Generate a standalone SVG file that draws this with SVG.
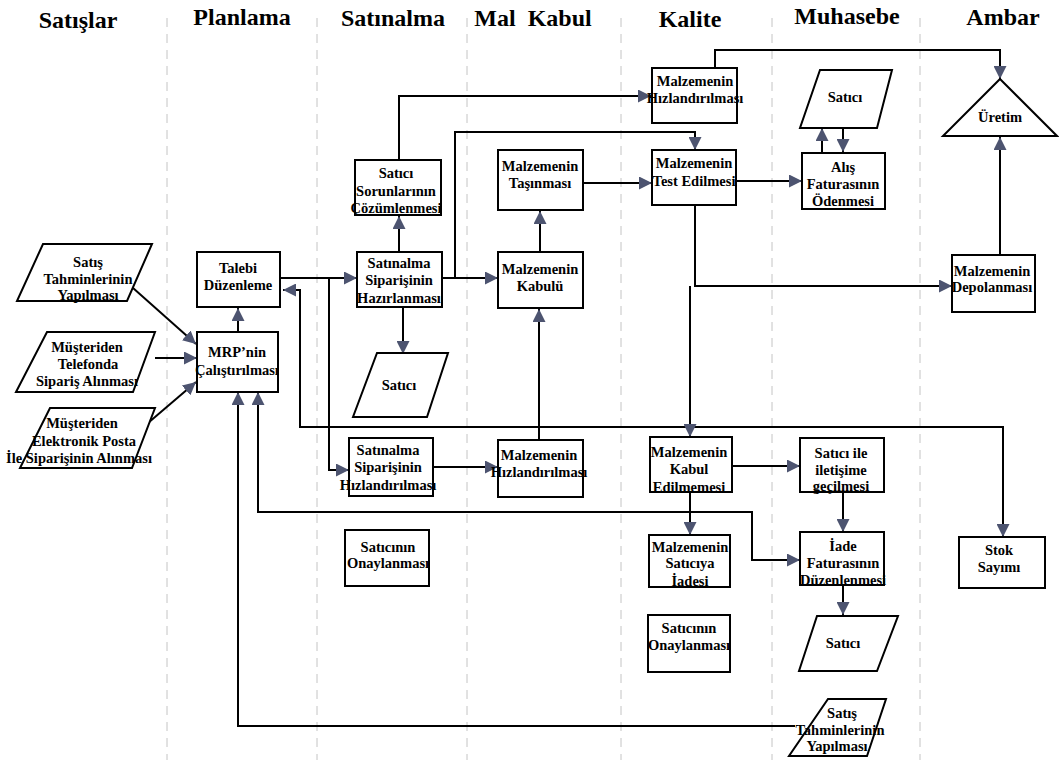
<svg xmlns="http://www.w3.org/2000/svg" width="1059" height="760" viewBox="0 0 1059 760" font-family="Liberation Serif, DejaVu Serif, serif">
  <style>
    .lane { stroke: #c4c4c4; stroke-width: 1; stroke-dasharray: 9 7; }
    .box { fill: #fff; stroke: #000; stroke-width: 2; }
    .t { font-family: 'Liberation Serif', 'DejaVu Serif', serif; font-weight: 700; font-size: 14.5px; text-anchor: middle; fill: #000; }
    .h { font-size: 24px; }
    .c { fill: none; stroke: #000; stroke-width: 2; }
    .arr { marker-end: url(#ah); }
    .both { marker-start: url(#ah); marker-end: url(#ah); }
    .st { marker-start: url(#ah); }
  </style>
  <defs>
    <marker id="ah" markerUnits="userSpaceOnUse" markerWidth="13" markerHeight="13" refX="13" refY="6.5" orient="auto-start-reverse">
      <path d="M0,0 L13,6.5 L0,13 Z" fill="#4d5470"/>
    </marker>
  </defs>

  <rect width="1059" height="760" fill="#fff"/>

  <!-- swimlane dividers -->
  <g id="lanes">
    <line class="lane" x1="167" y1="18" x2="167" y2="760"/>
    <line class="lane" x1="317" y1="18" x2="317" y2="760"/>
    <line class="lane" x1="467" y1="18" x2="467" y2="760"/>
    <line class="lane" x1="621" y1="18" x2="621" y2="760"/>
    <line class="lane" x1="772" y1="18" x2="772" y2="760"/>
    <line class="lane" x1="920" y1="18" x2="920" y2="760"/>
  </g>

  <!-- lane headings -->
  <g id="headers">
    <text class="t h" x="78" y="28">Satışlar</text>
    <text class="t h" x="242" y="25">Planlama</text>
    <text class="t h" x="393" y="26">Satınalma</text>
    <text class="t h" x="533" y="26" word-spacing="6">Mal Kabul</text>
    <text class="t h" x="690" y="27">Kalite</text>
    <text class="t h" x="847" y="24">Muhasebe</text>
    <text class="t h" x="1003" y="25">Ambar</text>
  </g>

  <!-- connectors -->
  <g id="connectors">
    <line class="c arr" x1="133" y1="288" x2="196" y2="344"/>
    <line class="c arr" x1="155" y1="358" x2="197" y2="358"/>
    <line class="c arr" x1="148" y1="423" x2="196" y2="382"/>
    <line class="c arr" x1="238" y1="332" x2="238" y2="308"/>
    <line class="c arr" x1="280" y1="278" x2="357" y2="278"/>
    <polyline class="c arr" points="329,278 329,470 349,470"/>
    <polyline class="c both" points="283,290 300,290 300,427 1003,427 1003,537"/>
    <line class="c arr" x1="399" y1="252" x2="399" y2="216"/>
    <polyline class="c arr" points="399,160 399,96 651,96"/>
    <line class="c arr" x1="442" y1="278" x2="498" y2="278"/>
    <polyline class="c arr" points="455,278 455,132 695,132 695,150"/>
    <line class="c arr" x1="403" y1="307" x2="403" y2="354" stroke-width="3"/>
    <line class="c arr" x1="433" y1="467" x2="498" y2="467"/>
    <line class="c arr" x1="539" y1="440" x2="539" y2="309"/>
    <line class="c arr" x1="540" y1="252" x2="540" y2="211"/>
    <line class="c arr" x1="575" y1="183" x2="652" y2="183"/>
    <line class="c arr" x1="736" y1="181" x2="802" y2="181"/>
    <polyline class="c arr" points="695,205 695,286 952,286"/>
    <line class="c arr" x1="690" y1="286" x2="690" y2="437"/>
    <line class="c arr" x1="732" y1="466" x2="800" y2="466"/>
    <line class="c arr" x1="690" y1="492" x2="690" y2="535"/>
    <line class="c arr" x1="843" y1="492" x2="843" y2="532"/>
    <line class="c arr" x1="843" y1="585" x2="843" y2="615"/>
    <line class="c arr" x1="822" y1="153" x2="822" y2="128"/>
    <line class="c arr" x1="843" y1="128" x2="843" y2="152"/>
    <polyline class="c arr" points="715,68 715,50 1000,50 1000,79"/>
    <line class="c arr" x1="1000" y1="255" x2="1000" y2="137"/>
    <polyline class="c both" points="258,392 258,512 752,512 752,560 800,560"/>
    <polyline class="c st" points="238,392 238,726 795,726"/>
  </g>

  <!-- Satışlar -->
  <g id="satis-tahmin">
    <polygon class="box" points="43,244 152,244 127,301 17,301"/>
    <text class="t" x="88" y="267">Satış</text>
    <text class="t" x="88" y="284">Tahminlerinin</text>
    <text class="t" x="88" y="300">Yapılması</text>
  </g>
  <g id="telefon-siparis">
    <polygon class="box" points="47,332 155,332 133,392 16,392"/>
    <text class="t" x="87" y="352">Müşteriden</text>
    <text class="t" x="88" y="369">Telefonda</text>
    <text class="t" x="87" y="386">Sipariş Alınması</text>
  </g>
  <g id="eposta-siparis">
    <polygon class="box" points="50,408 155,408 132,468 20,468"/>
    <text class="t" x="82" y="428">Müşteriden</text>
    <text class="t" x="84" y="446">Elektronik Posta</text>
    <text class="t" x="79" y="463">İle Siparişinin Alınması</text>
  </g>

  <!-- Planlama -->
  <g id="talebi-duzenleme">
    <rect class="box" x="197" y="252" width="83" height="55"/>
    <text class="t" x="238" y="273">Talebi</text>
    <text class="t" x="238" y="290">Düzenleme</text>
  </g>
  <g id="mrp">
    <rect class="box" x="197" y="332" width="81" height="60"/>
    <text class="t" x="237" y="357">MRP’nin</text>
    <text class="t" x="237" y="375">Çalıştırılması</text>
  </g>

  <!-- Satınalma -->
  <g id="satici-sorunlari">
    <rect class="box" x="355" y="160" width="86" height="55"/>
    <text class="t" x="396" y="178">Satıcı</text>
    <text class="t" x="396" y="196">Sorunlarının</text>
    <text class="t" x="396" y="213">Çözümlenmesi</text>
  </g>
  <g id="siparis-hazirlanmasi">
    <rect class="box" x="357" y="252" width="85" height="55"/>
    <text class="t" x="399" y="268">Satınalma</text>
    <text class="t" x="399" y="285">Siparişinin</text>
    <text class="t" x="399" y="303">Hazırlanması</text>
  </g>
  <g id="satici-1">
    <polygon class="box" points="377,353 448,353 427,417 353,417"/>
    <text class="t" x="399" y="390">Satıcı</text>
  </g>
  <g id="siparis-hizlandirilmasi">
    <rect class="box" x="349" y="438" width="84" height="58"/>
    <text class="t" x="388" y="455">Satınalma</text>
    <text class="t" x="388" y="472">Siparişinin</text>
    <text class="t" x="388" y="490">Hızlandırılması</text>
  </g>
  <g id="satici-onay-1">
    <rect class="box" x="345" y="530" width="84" height="56"/>
    <text class="t" x="388" y="552">Satıcının</text>
    <text class="t" x="388" y="568">Onaylanması</text>
  </g>

  <!-- Mal Kabul -->
  <g id="malzeme-tasinmasi">
    <rect class="box" x="498" y="150" width="85" height="60"/>
    <text class="t" x="540" y="171">Malzemenin</text>
    <text class="t" x="540" y="188">Taşınması</text>
  </g>
  <g id="malzeme-kabulu">
    <rect class="box" x="498" y="252" width="85" height="56"/>
    <text class="t" x="540" y="274">Malzemenin</text>
    <text class="t" x="540" y="291">Kabulü</text>
  </g>
  <g id="malzeme-hizlandirma-2">
    <rect class="box" x="498" y="440" width="85" height="57"/>
    <text class="t" x="539" y="460">Malzemenin</text>
    <text class="t" x="539" y="477">Hızlandırılması</text>
  </g>

  <!-- Kalite -->
  <g id="malzeme-hizlandirma-1">
    <rect class="box" x="652" y="68" width="85" height="55"/>
    <text class="t" x="695" y="86">Malzemenin</text>
    <text class="t" x="695" y="103">Hızlandırılması</text>
  </g>
  <g id="test-edilmesi">
    <rect class="box" x="652" y="150" width="84" height="55"/>
    <text class="t" x="694" y="168">Malzemenin</text>
    <text class="t" x="694" y="186">Test Edilmesi</text>
  </g>
  <g id="kabul-edilmemesi">
    <rect class="box" x="650" y="437" width="82" height="55"/>
    <text class="t" x="689" y="457">Malzemenin</text>
    <text class="t" x="689" y="474">Kabul</text>
    <text class="t" x="689" y="492">Edilmemesi</text>
  </g>
  <g id="saticiya-iade">
    <rect class="box" x="649" y="535" width="81" height="52"/>
    <text class="t" x="690" y="552">Malzemenin</text>
    <text class="t" x="690" y="568">Satıcıya</text>
    <text class="t" x="690" y="586">İadesi</text>
  </g>
  <g id="satici-onay-2">
    <rect class="box" x="648" y="615" width="82" height="57"/>
    <text class="t" x="689" y="633">Satıcının</text>
    <text class="t" x="689" y="650">Onaylanması</text>
  </g>

  <!-- Muhasebe -->
  <g id="satici-2">
    <polygon class="box" points="820,70 892,70 877,128 800,128"/>
    <text class="t" x="845" y="102">Satıcı</text>
  </g>
  <g id="alis-faturasi">
    <rect class="box" x="802" y="153" width="83" height="56"/>
    <text class="t" x="843" y="172">Alış</text>
    <text class="t" x="843" y="189">Faturasının</text>
    <text class="t" x="843" y="206">Ödenmesi</text>
  </g>
  <g id="satici-iletisim">
    <rect class="box" x="800" y="438" width="84" height="54"/>
    <text class="t" x="841" y="458">Satıcı ile</text>
    <text class="t" x="841" y="475">iletişime</text>
    <text class="t" x="841" y="491">geçilmesi</text>
  </g>
  <g id="iade-faturasi">
    <rect class="box" x="800" y="532" width="84" height="53"/>
    <text class="t" x="843" y="551">İade</text>
    <text class="t" x="843" y="568">Faturasının</text>
    <text class="t" x="843" y="585">Düzenlenmesi</text>
  </g>
  <g id="satici-3">
    <polygon class="box" points="817,616 898,616 877,671 799,671"/>
    <text class="t" x="843" y="648">Satıcı</text>
  </g>
  <g id="satis-tahmin-2">
    <polygon class="box" points="828,699 886,699 867,756 789,756"/>
    <text class="t" x="842" y="718">Satış</text>
    <text class="t" x="840" y="735">Tahminlerinin</text>
    <text class="t" x="837" y="751">Yapılması</text>
  </g>

  <!-- Ambar -->
  <g id="uretim">
    <polygon class="box" points="1000,79 1057,136 943,136"/>
    <text class="t" x="1000" y="122">Üretim</text>
  </g>
  <g id="depolanmasi">
    <rect class="box" x="952" y="255" width="83" height="57"/>
    <text class="t" x="992" y="276">Malzemenin</text>
    <text class="t" x="992" y="292">Depolanması</text>
  </g>
  <g id="stok-sayimi">
    <rect class="box" x="959" y="537" width="86" height="51"/>
    <text class="t" x="999" y="555">Stok</text>
    <text class="t" x="999" y="572">Sayımı</text>
  </g>
</svg>
